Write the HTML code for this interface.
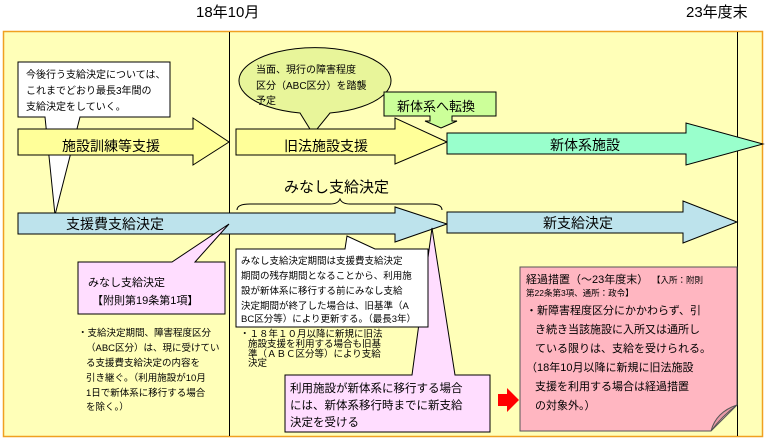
<!DOCTYPE html>
<html><head><meta charset="utf-8"><style>
body{margin:0;background:#fff}
svg{display:block}
text{font-family:"Liberation Sans","Noto Sans CJK JP",sans-serif;fill:#000}
</style></head><body>
<svg width="769" height="441" viewBox="0 0 769 441" xmlns="http://www.w3.org/2000/svg">
<text x="196" y="17" font-size="15">18年10月</text>
<text x="686" y="17" font-size="15">23年度末</text>
<rect x="3.5" y="31.5" width="759" height="405" fill="#ffffb8" stroke="#f0a020" stroke-width="1.5"/>
<line x1="229.5" y1="32" x2="229.5" y2="436" stroke="#000"/>
<line x1="737.5" y1="32" x2="737.5" y2="436" stroke="#000"/>

<!-- left white callout -->
<path d="M18,62 H170 V117 H80 L55,215 L45,117 H18 Z" fill="#fff" stroke="#000"/>
<text font-size="10"><tspan x="26" y="78">今後行う支給決定については、</tspan><tspan x="26" y="94">これまでどおり最長3年間の</tspan><tspan x="26" y="110">支給決定をしていく。</tspan></text>

<!-- ellipse callout -->
<path d="M300,113 A76,33 0 1 1 330,113 L313,134 Z" fill="#e8f59a" stroke="#000"/>
<text font-size="10"><tspan x="256" y="73">当面、現行の障害程度</tspan><tspan x="256" y="89">区分（ABC区分）を踏襲</tspan><tspan x="256" y="104">予定</tspan></text>

<!-- 新体系へ転換 -->
<path d="M384,92 H496 V116 H452 V121 H457 L441,128 L425,121 H430 V116 H384 Z" fill="#ccff99" stroke="#000"/>
<text x="397" y="111" font-size="13">新体系へ転換</text>

<!-- arrows row 1 -->
<path d="M18,129 H193 V118 L229,142 L193,165 V155 H18 Z" fill="#ffff99" stroke="#000"/>
<text x="62" y="151" font-size="14">施設訓練等支援</text>
<path d="M236,129 H395 V118 L447,142 L395,164 V155 H236 Z" fill="#ffff99" stroke="#000"/>
<text x="284" y="151" font-size="14">旧法施設支援</text>
<path d="M447,133 H686 V123 L763,144 L686,165 V154 H447 Z" fill="#99ffcc" stroke="#000"/>
<text x="550" y="150" font-size="14">新体系施設</text>

<!-- brace -->
<text x="284" y="192" font-size="15">みなし支給決定</text>
<path d="M237,210 Q237,204 250,204 H330 Q338,204 340,199 Q342,204 350,204 H430 Q442,204 442,210" fill="none" stroke="#000"/>

<!-- row 2 arrows -->
<path d="M18,213 H395 V207 L447,224 L395,242 V234 H18 Z" fill="#bde3ec" stroke="#000"/>
<text x="66" y="229" font-size="14">支援費支給決定</text>
<path d="M447,212 H683 V201 L737,222 L683,243 V233 H447 Z" fill="#bde3ec" stroke="#000"/>
<text x="543" y="228" font-size="14">新支給決定</text>

<!-- pink callout みなし -->
<path d="M78,262 H172 L229,224 L195,262 H225 V314 H78 Z" fill="#ffddff" stroke="#000"/>
<text x="88" y="286" font-size="11">みなし支給決定</text>
<text x="92" y="304" font-size="11">【附則第19条第1項】</text>
<text font-size="9.5"><tspan x="78" y="336">・支給決定期間、障害程度区分</tspan><tspan x="86" y="351">（ABC区分）は、現に受けてい</tspan><tspan x="86" y="366">る支援費支給決定の内容を</tspan><tspan x="86" y="381">引き継ぐ。（利用施設が10月</tspan><tspan x="86" y="396">1日で新体系に移行する場合</tspan><tspan x="86" y="410">を除く。）</tspan></text>

<!-- text under white box -->
<text font-size="9.5"><tspan x="240" y="337">・１８年１０月以降に新規に旧法</tspan><tspan x="248" y="347">施設支援を利用する場合も旧基</tspan><tspan x="248" y="357">準（ＡＢＣ区分等）により支給</tspan><tspan x="248" y="366">決定</tspan></text>

<!-- pink box 利用施設 -->
<path d="M285,375 H412 L432,228 L455,375 H490 V432 H285 Z" fill="#ffddff" stroke="#000"/>
<text font-size="11.5"><tspan x="290" y="392">利用施設が新体系に移行する場合</tspan><tspan x="290" y="409">には、新体系移行時までに新支給</tspan><tspan x="290" y="426">決定を受ける</tspan></text>

<!-- white box -->
<path d="M236,249 H345 L347,236 L375,249 H428 V327 H236 Z" fill="#fff" stroke="#000"/>
<text font-size="9.5"><tspan x="241" y="264">みなし支給決定期間は支援費支給決定</tspan><tspan x="241" y="279">期間の残存期間となることから、利用施</tspan><tspan x="241" y="294">設が新体系に移行する前にみなし支給</tspan><tspan x="241" y="309">決定期間が終了した場合は、旧基準（A</tspan><tspan x="241" y="322">BC区分等）により更新する。（最長3年）</tspan></text>

<!-- red arrow -->
<path d="M498,394 H507 V388 L519,400 L507,412 V406 H498 Z" fill="#ff0000"/>

<!-- pink note -->
<path d="M520,267 H737 V405 L711,431 H520 Z" fill="#ffb6c1" stroke="#555"/>
<path d="M711,431 Q716,412 737,405 Q722,416 711,431 Z" fill="#e89aa8" stroke="#555"/>
<text x="526" y="283" font-size="11">経過措置（～23年度末）</text>
<text x="652" y="283" font-size="8.5">【入所：附則</text>
<text x="526" y="296" font-size="8.5">第22条第3項、通所：政令】</text>
<text font-size="11"><tspan x="526" y="314">・新障害程度区分にかかわらず、引</tspan><tspan x="535" y="333">き続き当該施設に入所又は通所し</tspan><tspan x="535" y="352">ている限りは、支給を受けられる。</tspan><tspan x="526" y="371">（18年10月以降に新規に旧法施設</tspan><tspan x="535" y="390">支援を利用する場合は経過措置</tspan><tspan x="535" y="409">の対象外。）</tspan></text>
</svg>
</body></html>
